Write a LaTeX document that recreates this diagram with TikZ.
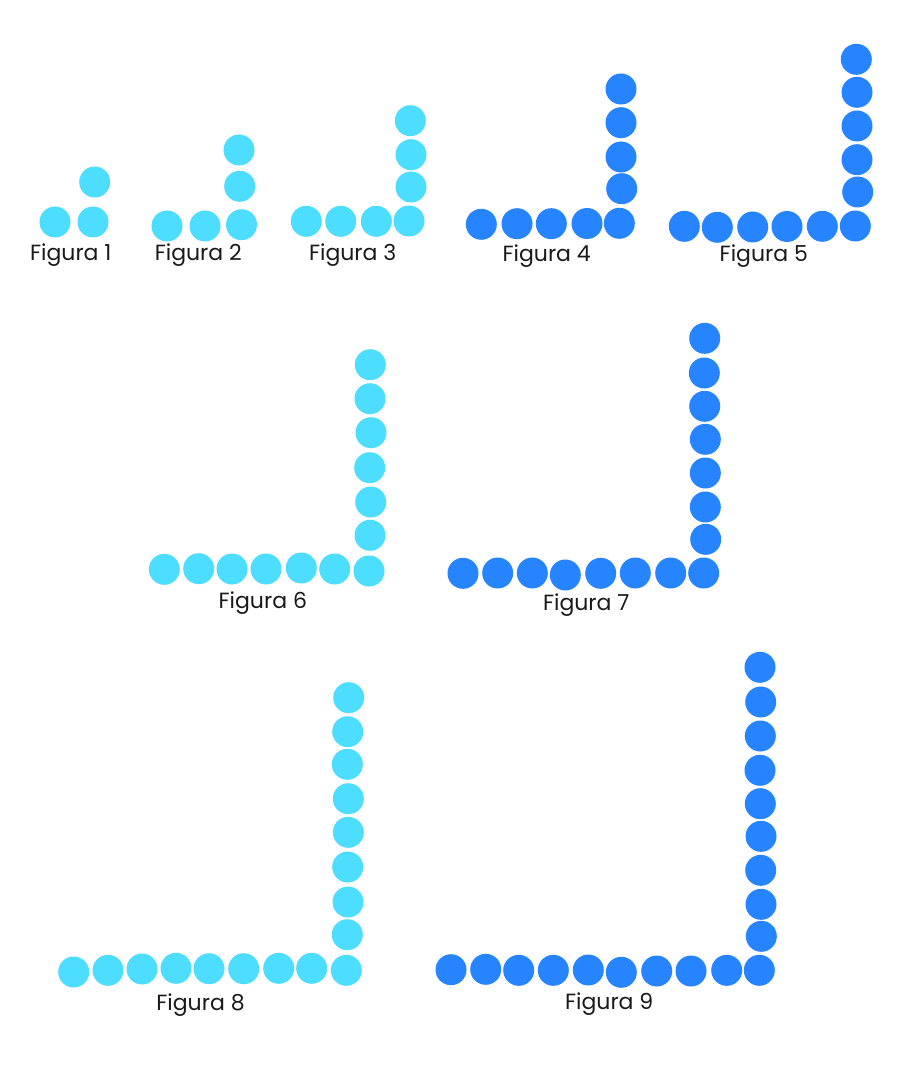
\documentclass[tikz,border=0pt]{standalone}
\usepackage{fontspec}
\setmainfont{Poppins}
\definecolor{lightc}{RGB}{77,221,255}
\definecolor{darkc}{RGB}{38,132,255}
\definecolor{txt}{RGB}{26,26,26}
\begin{document}
\begin{tikzpicture}[x=1pt,y=-1pt,
  dot/.style={circle,inner sep=0pt,minimum size=31pt},
  lightdot/.style={dot,fill=lightc},
  darkdot/.style={dot,fill=darkc},
  lbl/.style={font=\fontsize{22}{26}\selectfont,text=txt,inner sep=0pt,anchor=base}]
\fill[white] (0,0) rectangle (921,1075);
\useasboundingbox (0,0) rectangle (921,1075);
% Figura 1
\foreach \x/\y [count=\i] in {55/222,93/222,94.7/182}
  \node[lightdot] (a\i) at (\x,\y) {};
\node[lbl] (la) at (70.8,260) {Figura 1};
% Figura 2
\foreach \x/\y [count=\i] in {167/226,205/226,241.5/224.7,239.7/186.3,239/150}
  \node[lightdot] (b\i) at (\x,\y) {};
\node[lbl] (lb) at (198.3,260.5) {Figura 2};
% Figura 3
\foreach \x/\y [count=\i] in {306.3/221.3,340.7/221.3,376.3/221.3,409/221,411/187,411/154.7,410.3/120.7}
  \node[lightdot] (c\i) at (\x,\y) {};
\node[lbl] (lc) at (352.7,260) {Figura 3};
% Figura 4
\foreach \x/\y [count=\i] in {481.3/224.3,517/223.7,551.3/223.7,587/223.5,619.3/223.3,621.7/188.7,621/157,621/122.7,621/89}
  \node[darkdot] (d\i) at (\x,\y) {};
\node[lbl] (ld) at (546.7,261.5) {Figura 4};
% Figura 5
\foreach \x/\y [count=\i] in {684.3/226.3,717.3/227.3,752.7/227,787/226.5,822.3/226.3,855.3/226,857.7/192,857/159.7,857/126,857/92.3,856.3/59.3}
  \node[darkdot] (e\i) at (\x,\y) {};
\node[lbl] (le) at (763.8,261.5) {Figura 5};
% Figura 6
\foreach \x/\y [count=\i] in {164.3/569.3,198.7/568.7,232/569,266/569,301.3/568,334.7/569,369/571,370/535.3,370.7/502,369.7/467.7,371/432.7,370/398.7,370.3/364.7}
  \node[lightdot] (f\i) at (\x,\y) {};
\node[lbl] (lf) at (262.8,608) {Figura 6};
% Figura 7
\foreach \x/\y [count=\i] in {463/573.3,497.7/573,532.3/573,565.3/575,600.7/573.3,635.3/573,670.7/573,703.7/573,705.7/539.3,705.3/507,705.3/473,705.3/439.3,704.7/406.3,704.3/373,704.7/338.3}
  \node[darkdot] (g\i) at (\x,\y) {};
\node[lbl] (lg) at (586.2,610) {Figura 7};
% Figura 8
\foreach \x/\y [count=\i] in {73.7/972,108/970.3,142/969,176/968.3,209/968.7,243.7/968.7,278.7/968.3,311.7/968.3,346.3/970.3,347.3/934.7,348/902,347.7/867,348.3/832.3,348.3/798.7,347.3/764.3,347.7/731.7,348.7/697.7}
  \node[lightdot] (h\i) at (\x,\y) {};
\node[lbl] (lh) at (200.5,1010) {Figura 8};
% Figura 9
\foreach \x/\y [count=\i] in {451/969.7,485.7/969.3,518.7/970.3,553.3/970.3,588.3/970,621.3/972.3,656.7/971,691/971,726.7/970.3,759.3/970.3,761.3/936.3,761/904.3,760.7/870.3,761/836.3,760.3/803.7,760/770.3,760.3/736,760.7/702,760/667.3}
  \node[darkdot] (k\i) at (\x,\y) {};
\node[lbl] (lk) at (609.2,1009) {Figura 9};
\end{tikzpicture}
\end{document}
